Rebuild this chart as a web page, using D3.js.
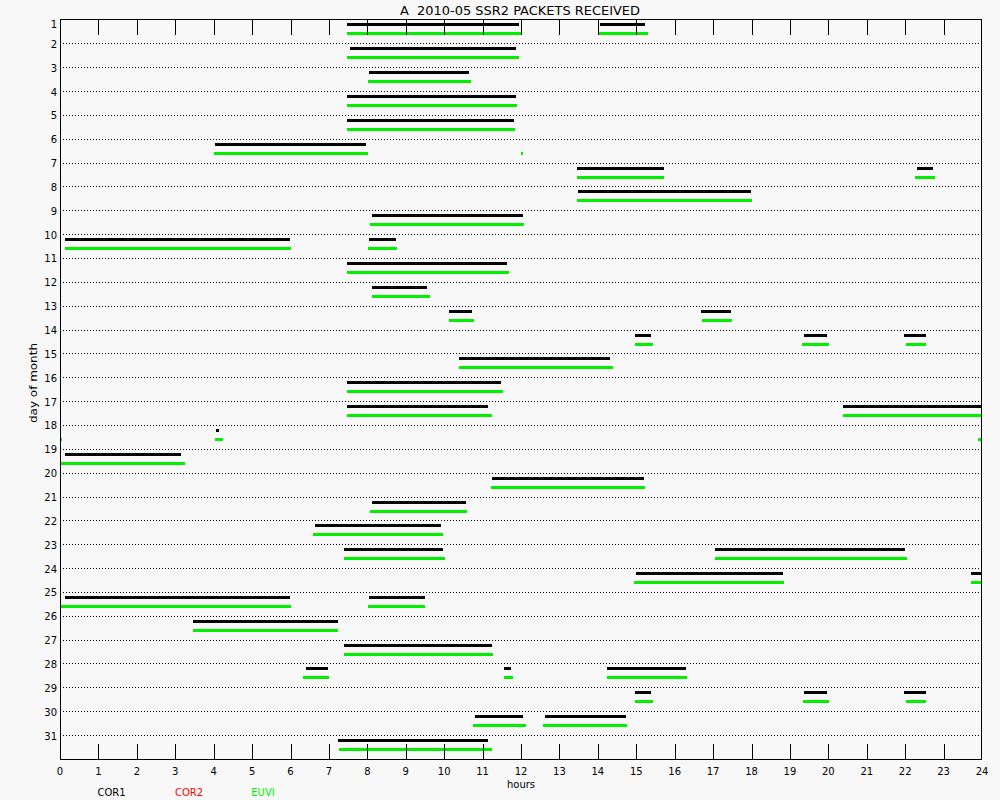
<!DOCTYPE html>
<html>
<head>
<meta charset="utf-8">
<script src="https://cdn.jsdelivr.net/npm/d3@7"></script>
<style>
  html, body { margin: 0; padding: 0; background: #f8f8f8; }
  svg { display: block; }
  text { font-family: "DejaVu Sans", sans-serif; fill: #000; }
</style>
</head>
<body>
<svg id="chart" width="1000" height="800"></svg>
<script>
// ---------- data ----------
const titleText = "A  2010-05 SSR2 PACKETS RECEIVED";
const days = d3.range(1, 32);
const hourTicks = d3.range(0, 25);
const legendNames = ["COR1", "COR2", "EUVI"];
const legendColors = ["#000000", "#ff0000", "#00f000"];

// [day, startHour, endHour]
const cor1Segments = [
  [1, 7.47, 11.96], [1, 14.05, 15.24],
  [2, 7.55, 11.88],
  [3, 8.04, 10.64],
  [4, 7.47, 11.87],
  [5, 7.47, 11.82],
  [6, 4.04, 7.96],
  [7, 13.46, 15.72], [7, 22.31, 22.73],
  [8, 13.48, 17.99],
  [9, 8.12, 12.05],
  [10, 0.13, 5.99], [10, 8.04, 8.75],
  [11, 7.47, 11.64],
  [12, 8.12, 9.55],
  [13, 10.13, 10.73], [13, 16.69, 17.47],
  [14, 14.97, 15.38], [14, 19.37, 19.97], [14, 21.98, 22.54],
  [15, 10.39, 14.32],
  [16, 7.47, 11.48],
  [17, 7.47, 11.14], [17, 20.38, 24],
  [18, 4.06, 4.14], [18, 23.97, 24],
  [19, 0.13, 3.15],
  [20, 11.25, 15.20],
  [21, 8.12, 10.57],
  [22, 6.64, 9.91],
  [23, 7.39, 9.98], [23, 17.05, 22.00],
  [24, 14.99, 18.81], [24, 23.71, 24],
  [25, 0.13, 5.99], [25, 8.04, 9.51],
  [26, 3.47, 7.24],
  [27, 7.39, 11.25],
  [28, 6.40, 6.98], [28, 11.56, 11.74], [28, 14.24, 16.30],
  [29, 14.97, 15.38], [29, 19.37, 19.97], [29, 21.98, 22.54],
  [30, 10.80, 12.05], [30, 12.63, 14.73],
  [31, 7.24, 11.14]
];
const cor2Segments = [];
const euviSegments = [
  [1, 7.47, 12.01], [1, 14.02, 15.30],
  [2, 7.47, 11.95],
  [3, 8.02, 10.71],
  [4, 7.47, 11.90],
  [5, 7.47, 11.84],
  [6, 4.01, 8.02], [6, 12.01, 12.04],
  [7, 13.46, 15.72], [7, 22.26, 22.78],
  [8, 13.46, 18.01],
  [9, 8.07, 12.08],
  [10, 0.13, 6.01], [10, 8.02, 8.77],
  [11, 7.47, 11.69],
  [12, 8.12, 9.63],
  [13, 10.13, 10.78], [13, 16.71, 17.49],
  [14, 14.97, 15.44], [14, 19.32, 20.02], [14, 22.02, 22.54],
  [15, 10.39, 14.40],
  [16, 7.47, 11.53],
  [17, 7.47, 11.25], [17, 20.38, 24],
  [18, 0, 0.04], [18, 4.04, 4.24], [18, 23.90, 24],
  [19, 0, 3.25],
  [20, 11.22, 15.23],
  [21, 8.07, 10.59],
  [22, 6.59, 9.98],
  [23, 7.39, 10.02], [23, 17.05, 22.04],
  [24, 14.94, 18.85], [24, 23.71, 24],
  [25, 0.03, 6.01], [25, 8.02, 9.51],
  [26, 3.47, 7.24],
  [27, 7.39, 11.27],
  [28, 6.33, 7.00], [28, 11.56, 11.79], [28, 14.24, 16.32],
  [29, 14.97, 15.44], [29, 19.34, 20.02], [29, 22.02, 22.54],
  [30, 10.75, 12.13], [30, 12.57, 14.76],
  [31, 7.26, 11.25]
];

// ---------- layout ----------
const svg = d3.select("#chart");
const x = d3.scaleLinear().domain([0, 24]).range([60, 982]);
const y = d3.scaleLinear().domain([1, 32]).range([19.45, 758.9]);
const px = v => Math.round(x(v));
const py = d => Math.round(y(d));

svg.append("rect").attr("width", 1000).attr("height", 800).attr("fill", "#f8f8f8");

// gridlines
svg.append("g").selectAll("line").data(days.slice(1)).join("line")
  .attr("x1", 63).attr("x2", 980)
  .attr("y1", d => py(d) + 0.5).attr("y2", d => py(d) + 0.5)
  .attr("stroke", "#000").attr("stroke-width", 1)
  .attr("stroke-dasharray", "1,2")
  .attr("shape-rendering", "crispEdges");

// bars
function drawSegs(segs, color, offset) {
  svg.append("g").selectAll("rect").data(segs).join("rect")
    .attr("x", d => px(d[1]))
    .attr("width", d => Math.max(1, px(d[2]) - px(d[1])))
    .attr("y", d => py(d[0]) + offset)
    .attr("height", 3)
    .attr("fill", color)
    .attr("shape-rendering", "crispEdges");
}
drawSegs(cor1Segments, legendColors[0], 4);
drawSegs(cor2Segments, legendColors[1], 8.5);
drawSegs(euviSegments, legendColors[2], 13);

// frame
svg.append("rect")
  .attr("x", 60.5).attr("y", 19.5).attr("width", 921).attr("height", 740)
  .attr("fill", "none").attr("stroke", "#000").attr("stroke-width", 1)
  .attr("shape-rendering", "crispEdges");

// top & bottom ticks
const inner = hourTicks.slice(1, -1);
const tg = svg.append("g").attr("stroke", "#000").attr("shape-rendering", "crispEdges");
tg.selectAll("line.t").data(inner).join("line").attr("class", "t")
  .attr("x1", d => px(d) + 0.5).attr("x2", d => px(d) + 0.5)
  .attr("y1", 19.5).attr("y2", 34.5);
tg.selectAll("line.b").data(inner).join("line").attr("class", "b")
  .attr("x1", d => px(d) + 0.5).attr("x2", d => px(d) + 0.5)
  .attr("y1", 744).attr("y2", 759.5);

// x tick labels
svg.append("g").selectAll("text").data(hourTicks).join("text")
  .attr("x", d => x(d)).attr("y", 775)
  .attr("text-anchor", "middle").attr("font-size", 10)
  .text(d => d);

// y tick labels
svg.append("g").selectAll("text").data(days).join("text")
  .attr("x", 57).attr("y", d => Math.max(y(d), 23) + 4.5)
  .attr("text-anchor", "end").attr("font-size", 10)
  .text(d => d);

// title
svg.append("text").attr("x", 520).attr("y", 14.5)
  .attr("text-anchor", "middle").attr("font-size", 13)
  .attr("textLength", 240).attr("lengthAdjust", "spacingAndGlyphs")
  .attr("xml:space", "preserve")
  .style("white-space", "pre")
  .text(titleText);

// axis titles
svg.append("text").attr("x", 521).attr("y", 788)
  .attr("text-anchor", "middle").attr("font-size", 10).text("hours");
svg.append("text")
  .attr("transform", "translate(37,383) rotate(-90)")
  .attr("text-anchor", "middle").attr("font-size", 10.5)
  .attr("textLength", 80).attr("lengthAdjust", "spacingAndGlyphs")
  .text("day of month");

// legend
const legX = [111.5, 189, 263];
svg.append("g").selectAll("text").data(legendNames).join("text")
  .attr("x", (d, i) => legX[i]).attr("y", 796)
  .attr("text-anchor", "middle").attr("font-size", 10)
  .style("fill", (d, i) => legendColors[i])
  .text(d => d);
</script>
</body>
</html>
